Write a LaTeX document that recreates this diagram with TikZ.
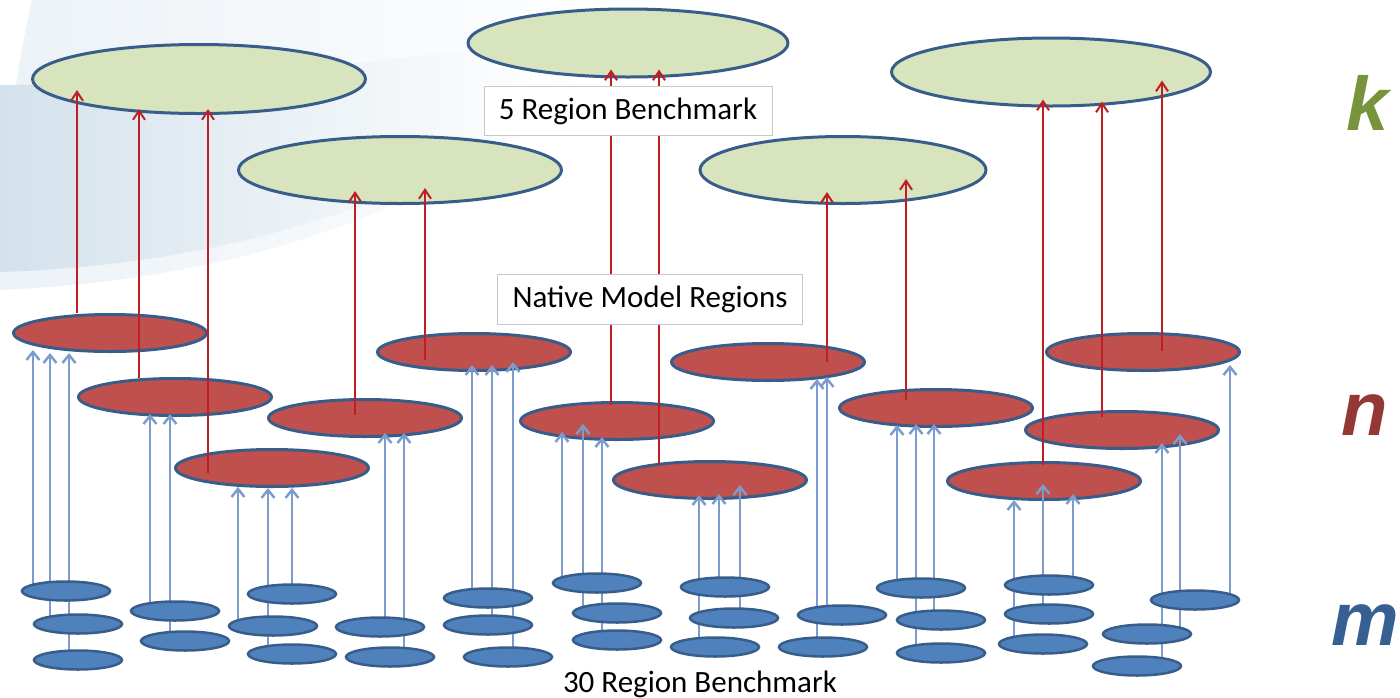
\documentclass[tikz,border=0pt]{standalone}
\usepackage{fontspec}
\setmainfont{Carlito}
\newfontfamily\letterfont{Liberation Sans}
\usetikzlibrary{shapes,arrows.meta}

\definecolor{kfill}{RGB}{215,228,189}
\definecolor{nfill}{RGB}{192,80,77}
\definecolor{mfill}{RGB}{79,129,189}
\definecolor{rim}{RGB}{56,93,138}
\definecolor{kline}{RGB}{190,30,36}
\definecolor{mline}{RGB}{124,156,206}
\definecolor{boxrim}{RGB}{200,200,200}
\definecolor{kletter}{RGB}{119,147,60}
\definecolor{nletter}{RGB}{149,55,53}
\definecolor{mletter}{RGB}{55,96,146}
\definecolor{swoosh}{RGB}{212,226,236}
\definecolor{haze}{RGB}{236,242,247}

\begin{document}
\begin{tikzpicture}[x=1pt,y=-1pt, % pixel grid, y going down
		kregion/.style={ellipse,draw=rim,line width=3pt,fill=kfill,inner sep=0pt},
		nregion/.style={ellipse,draw=rim,line width=3pt,fill=nfill,inner sep=0pt,minimum width=193pt,minimum height=37pt},
		mregion/.style={ellipse,draw=rim,line width=2.5pt,fill=mfill,inner sep=0pt,minimum width=88pt,minimum height=19pt},
		kup/.style={draw=kline,line width=2pt,-{Straight Barb[length=9pt,width=12pt]}},
		mup/.style={draw=mline,line width=2.5pt,-{Straight Barb[length=8pt,width=13pt]}},
		tagbox/.style={draw=boxrim,line width=1pt,fill=white,inner sep=0pt,font=\fontsize{31}{36}\selectfont},
		letter/.style={anchor=base,font=\letterfont\bfseries\itshape\fontsize{76}{80}\selectfont}]
		\useasboundingbox (0,0) rectangle (1400,697);
		
		% backdrop of the slide
		\shade[left color=haze,right color=white] (32,0) .. controls (14,80) and (5,160) .. (0,240) -- (0,290) .. controls (220,280) and (400,225) .. (560,110) -- (640,0) -- cycle;
		\shade[left color=swoosh,right color=white] (0,85) .. controls (140,84) and (320,72) .. (540,40) -- (560,110) .. controls (390,215) and (200,266) .. (0,272) -- cycle;
		
		\begin{scope}
			\clip (0,0) rectangle (1242,697); % right side is cut off
			
			% k: 5 region benchmark
			\foreach \n/\x/\y/\w/\h in {g1/199/79/333/69, g2/628/43/320/68, g3/400/170/323/67, g4/843/170/286/67, g5/1051/72/319/68}
			{
				\node[kregion,minimum width=\w pt,minimum height=\h pt] (\n) at (\x,\y) {};
			}
			
			% n: native model regions
			\foreach \n/\x/\y in {r1/110/333, r2/175/397, r3/272/468, r4/365/418, r5/474/352, r6/617/421, r7/710/480, r8/768/362, r9/936/408, r10/1143/352, r11/1122/430, r12/1044/481}
			{
				\node[nregion] (\n) at (\x,\y) {};
			}
			
			% n -> k, tips reach into the k ellipses
			\foreach \x/\r/\g/\s/\e in {77/r1/g1/20/25, 139/r2/g1/19/6, 208/r3/g1/-5/6, 355/r4/g3/3/14, 425/r5/g3/-8/17, 611/r6/g2/16/9, 659/r7/g2/15/9, 827/r8/g4/0/13, 906/r9/g4/8/26, 1043/r12/g5/16/8, 1102/r11/g5/13/6, 1162/r10/g5/1/27}
			{
				\draw[kup,shorten <=\s pt,shorten >=-\e pt] (\x,0 |- \r.center) -- (\x,0 |- \g.south);
			}
			
			% m: 30 region benchmark
			\foreach \n/\x/\y in {b1/66/591, b2/78/624, b3/78/660, b4/175/611, b5/185/641, b6/292/594, b7/273/626, b8/292/654, b9/380/627, b10/390/657,
				b11/488/598, b12/488/625, b13/508/657, b14/597/583, b15/617/613, b16/617/640, b17/725/587, b18/734/618, b19/715/647, b20/842/615,
				b21/823/647, b22/921/588, b23/941/620, b24/941/653, b25/1049/585, b26/1049/614, b27/1043/644, b28/1147/634, b29/1137/666, b30/1195/600}
			{
				\coordinate (\n) at (\x,\y);
			}
			
			% m -> n (drawn before the m ellipses, so they hide behind them)
			\foreach \x/\b/\r/\d in {33/b1/r1/3, 50/b2/r1/0, 69/b3/r1/0, 150/b4/r2/3, 170/b5/r2/3, 238/b7/r3/1, 268/b8/r3/0, 292/b6/r3/0, 385/b9/r4/5, 404/b10/r4/5,
				472/b11/r5/7, 492/b12/r5/7, 513/b13/r5/10, 562/b14/r6/9, 583/b15/r6/17, 602/b16/r6/4, 699/b19/r7/5, 719/b17/r7/6, 740/b18/r7/15,
				817/b21/r8/3, 827/b20/r8/5, 897/b22/r9/3, 916/b24/r9/4, 934/b23/r9/4, 1014/b27/r12/1, 1043/b26/r12/17, 1073/b25/r12/7,
				1162/b29/r11/7, 1180/b28/r11/16, 1230/b30/r10/7}
			{
				\draw[mup,shorten >=-\d pt] (\x,0 |- \b) -- (\x,0 |- \r.south);
			}
			
			\foreach \n in {b1,b2,b3,b4,b5,b6,b7,b8,b9,b10,b11,b12,b13,b14,b15,b16,b17,b18,b19,b20,b21,b22,b23,b24,b25,b26,b27,b28,b29,b30}
			{
				\node[mregion] (m\n) at (\n) {};
			}
		\end{scope}
		
		% tags
		\node[tagbox,minimum width=288pt,minimum height=49pt] (fivetag) at (628,111) {5 Region Benchmark};
		\node[tagbox,minimum width=305pt,minimum height=50pt] (nativetag) at (650,299) {Native Model Regions};
		\node[anchor=base,font=\fontsize{31}{36}\selectfont] (thirtytag) at (700,692) {30 Region Benchmark};
		
		% level letters
		\node[letter,text=kletter] (lk) at (1368,130) {k};
		\node[letter,text=nletter] (ln) at (1365,435) {n};
		\node[letter,text=mletter] (lm) at (1365,645) {m};
\end{tikzpicture}
\end{document}
